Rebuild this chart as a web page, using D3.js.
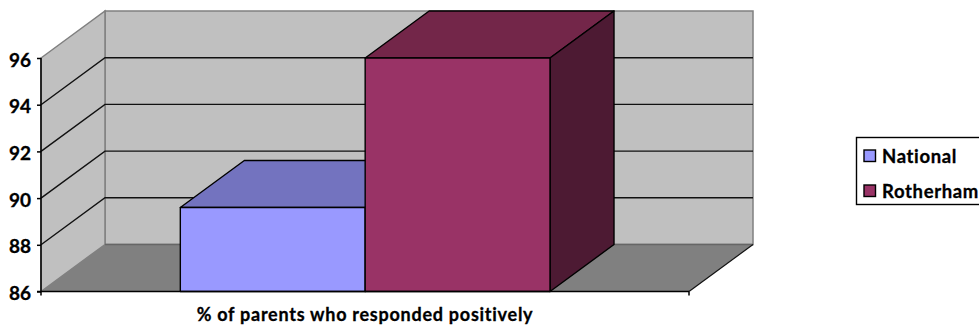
<!DOCTYPE html>
<html>
<head>
<meta charset="utf-8">
<style>
  html, body { margin: 0; padding: 0; background: #fff; overflow: hidden; }
  text { font-family: Lato, "Open Sans", sans-serif; font-weight: 700; fill: #000; stroke: #000; stroke-width: 0.3px; }
</style>
<script src="https://cdn.jsdelivr.net/npm/d3@7"></script>
</head>
<body>
<svg id="chart" width="979" height="327"></svg>
<script>
const categories = ["% of parents who responded positively"];
const seriesNames = ["National", "Rotherham"];
const seriesValues = [89.6, 96];
const yTicks = [86, 88, 90, 92, 94, 96];
const faceColors = ["#9999ff", "#993366"];
const topColors = ["#7373bf", "#732649"];
const sideColors = ["#4d4d80", "#4d1a33"];

const svg = d3.select("#chart");

// Oblique projection: depth shifts every back-plane point up and to the right.
const depthX = 64, depthY = -47;
const y = d3.scaleLinear().domain([86, 96]).range([291.5, 58]);
const x = d3.scaleBand().domain(categories).range([41, 689]);
const bars = d3.scaleBand().domain(seriesNames)
  .range([x(categories[0]) + x.bandwidth() * 0.2150, x(categories[0]) + x.bandwidth() * 0.7855]);

const poly = pts => pts.map(p => p.join(",")).join(" ");
const x0 = x.range()[0], x1 = x.range()[1];
const yTop = y(96), yBase = y(86);

// Walls and floor
svg.append("polygon").attr("fill", "#c0c0c0").attr("stroke", "#808080").attr("stroke-width", 1.5)
  .attr("points", poly([[x0 + depthX, yTop + depthY], [x1 + depthX, yTop + depthY], [x1 + depthX, yBase + depthY], [x0 + depthX, yBase + depthY]]));
svg.append("polygon").attr("fill", "#c0c0c0").attr("stroke", "#808080").attr("stroke-width", 1.5)
  .attr("points", poly([[x0, yTop], [x0 + depthX, yTop + depthY], [x0 + depthX, yBase + depthY], [x0, yBase]]));
svg.append("polygon").attr("fill", "#808080")
  .attr("points", poly([[x0, yBase], [x0 + depthX, yBase + depthY], [x1 + depthX, yBase + depthY], [x1, yBase]]));
svg.append("line").attr("stroke", "#666").attr("stroke-width", 1.5)
  .attr("x1", x0 + depthX).attr("x2", x1 + depthX).attr("y1", yBase + depthY).attr("y2", yBase + depthY);

// Gridlines run along the side wall and across the back wall; the outermost levels belong to the wall outline
const gridTicks = yTicks.slice(1, -1);
const grid = svg.append("g").attr("fill", "none").attr("stroke", "#111").attr("stroke-width", 1.4);
gridTicks.forEach(t => {
  grid.append("polyline").attr("points", poly([[x0, y(t)], [x0 + depthX, y(t) + depthY], [x1 + depthX, y(t) + depthY]]));
});

// Floor edge on the open side
svg.append("line").attr("stroke", "#111").attr("stroke-width", 1.2)
  .attr("x1", x1).attr("y1", yBase).attr("x2", x1 + depthX).attr("y2", yBase + depthY);

// 3D bars
const barG = svg.append("g").attr("stroke", "#000").attr("stroke-width", 1.4).attr("stroke-linejoin", "round");
seriesNames.forEach((name, i) => {
  const l = bars(name), r = l + bars.bandwidth(), t = y(seriesValues[i]);
  barG.append("polygon").attr("fill", topColors[i])
    .attr("points", poly([[l, t], [l + depthX, t + depthY], [r + depthX, t + depthY], [r, t]]));
  barG.append("polygon").attr("fill", sideColors[i])
    .attr("points", poly([[r, t], [r + depthX, t + depthY], [r + depthX, yBase + depthY], [r, yBase]]));
  barG.append("rect").attr("fill", faceColors[i])
    .attr("x", l).attr("y", t).attr("width", r - l).attr("height", yBase - t);
});

// Value axis
const yAxis = d3.axisLeft(y).tickValues(yTicks).tickSize(4).tickPadding(6);
const gy = svg.append("g").attr("transform", `translate(${x0},0)`).call(yAxis);
gy.selectAll("path, line").attr("stroke", "#000").attr("stroke-width", 1.5);
gy.select(".domain").attr("d", `M0,${yTop}V${yBase}`);
gy.selectAll("text")
  .attr("font-size", 19).attr("dy", "0.43em")
  .style("font-family", "Lato, sans-serif").style("font-weight", 700);

// Category axis
const xAxis = d3.axisBottom(x).tickValues([]).tickSizeOuter(0);
const gx = svg.append("g").attr("transform", `translate(0,${yBase})`).call(xAxis);
gx.select(".domain").attr("stroke", "#000").attr("stroke-width", 1.5).attr("d", `M${x0 - 4},0H${x1}M${x0},0V4M${x1},0V4`);
svg.append("text").attr("x", 365).attr("y", 321).attr("text-anchor", "middle")
  .attr("font-size", 18).attr("letter-spacing", 0.74).text(categories[0]);

// Legend; its frame runs past the right edge of the page
const legend = svg.append("g");
legend.append("rect").attr("x", 856.5).attr("y", 137.5).attr("width", 130).attr("height", 67)
  .attr("fill", "#fff").attr("stroke", "#000").attr("stroke-width", 1.4);
const legendRow = d3.scalePoint().domain(seriesNames).range([156, 191]);
seriesNames.forEach((name, i) => {
  const row = legendRow(name);
  legend.append("rect").attr("x", 864).attr("y", row - 6).attr("width", 11.5).attr("height", 11.5)
    .attr("fill", faceColors[i]).attr("stroke", "#000").attr("stroke-width", 1.4);
  legend.append("text").attr("x", 882).attr("y", row + 6.5)
    .attr("font-size", 18.5).attr("letter-spacing", 0.65).text(name);
});
</script>
</body>
</html>
